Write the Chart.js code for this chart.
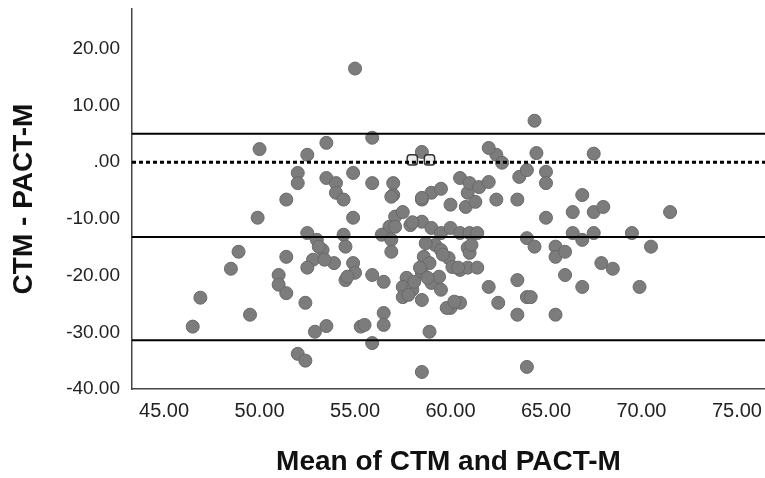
<!DOCTYPE html>
<html>
<head>
<meta charset="utf-8">
<script src="https://cdn.jsdelivr.net/npm/chart.js@4.4.1/dist/chart.umd.min.js"></script>
<style>
  html, body { margin: 0; padding: 0; background: #fff; }
  canvas { display: block; }
</style>
</head>
<body>
<canvas id="ba" width="765" height="478"></canvas>
<script>
// Bland-Altman: mean of the two methods vs their difference
const meanX = [
  46.5, 46.9, 48.5, 48.9, 49.5, 49.9, 50.0, 53.5, 52.5, 52.0,
  52.0, 51.4, 53.5, 54.0, 54.0, 54.4, 54.9, 54.9, 52.5, 53.0,
  53.3, 52.8, 52.5, 53.9, 54.4, 54.5, 54.9, 54.5, 55.0, 51.4,
  51.0, 51.0, 51.4, 52.4, 52.9, 53.5, 52.0, 52.4, 55.3, 55.0,
  55.9, 64.4, 58.5, 55.9, 57.0, 57.0, 58.5, 59.0, 59.5, 60.0,
  60.5, 60.9, 61.0, 61.5, 62.0, 62.4, 62.4, 62.7, 63.5, 63.6,
  64.0, 57.1, 57.5, 56.8, 56.4, 56.9, 56.9, 57.9, 58.5, 59.0,
  59.5, 60.0, 60.5, 61.0, 61.4, 60.9, 61.0, 59.2, 58.6, 58.9,
  59.5, 59.9, 60.1, 60.5, 60.9, 61.4, 58.5, 57.7, 57.5, 58.0,
  57.5, 58.5, 59.0, 59.5, 59.4, 55.9, 56.5, 62.0, 63.5, 64.0,
  62.5, 63.5, 60.0, 60.5, 56.5, 56.5, 55.5, 58.9, 55.9, 58.5,
  64.0, 64.0, 64.5, 67.5, 65.0, 65.0, 66.9, 66.4, 67.5, 68.0,
  71.5, 65.0, 66.4, 67.5, 66.9, 69.5, 70.5, 64.4, 65.5, 65.5,
  66.0, 67.9, 68.5, 66.0, 66.9, 69.9, 64.2, 65.5, 62.0, 58.0,
  57.1, 58.7, 59.6, 58.4, 60.4, 58.8, 58.1, 57.8, 61.1, 60.8,
  61.3, 56.9, 58.5, 59.8, 60.2, 53.1, 53.4, 54.6
];
const diffY = [
  -29.0, -23.9, -18.8, -15.8, -26.9, -9.8, 2.3, 3.4, 1.3, -1.9,
  -3.7, -6.6, -2.8, -3.7, -5.4, -6.6, -1.9, -9.8, -12.5, -13.7,
  -15.5, -17.2, -18.6, -17.8, -12.8, -14.9, -17.8, -20.8, -19.5, -16.7,
  -19.9, -21.6, -23.1, -24.8, -29.9, -28.9, -33.8, -35.0, -29.0, 16.5,
  4.3, 7.3, 1.8, -3.7, -3.7, -5.8, -6.6, -5.4, -4.7, -7.5,
  -2.8, -5.4, -3.7, -4.4, -3.5, -6.6, 1.3, -0.1, -6.6, -2.6,
  -1.4, -9.6, -8.8, -11.4, -12.8, -13.7, -15.8, -11.1, -10.5, -11.6,
  -12.5, -11.6, -12.5, -12.5, -12.5, -15.1, -16.0, -14.6, -16.7, -17.8,
  -15.5, -16.9, -18.5, -19.0, -18.6, -18.6, -19.5, -20.4, -22.0, -22.5,
  -23.8, -24.3, -21.3, -22.5, -20.2, -19.9, -21.1, -22.0, -20.8, -23.8,
  -24.8, -26.9, -25.7, -24.8, -26.6, -28.7, -28.7, -29.9, -31.9, -37.0,
  -36.1, -13.4, 1.6, 1.5, -1.7, -3.7, -5.8, -8.8, -8.8, -7.9,
  -8.8, -9.8, -12.5, -12.5, -13.7, -12.5, -14.9, -14.9, -14.9, -16.7,
  -15.8, -17.8, -18.8, -19.9, -22.0, -22.0, -23.8, -26.9, 2.5, -10.6,
  -11.4, -14.3, -16.3, -18.6, -18.6, -20.4, -21.1, -23.4, -14.6, -7.9,
  -7.0, -6.1, -6.3, -25.7, -24.6, -14.9, -17.2, -20.2
];
// overlapping cases SPSS shows with an outlined marker
const hollowX = [58.0, 58.9];
const hollowY = [0.4, 0.4];

const meanDiff = -13.2;
const upperLoA = 5.0;
const lowerLoA = -31.4;
const zeroLine = 0;

const xMin = 43.32, xMax = 76.47;
const yMin = -40, yMax = 27.0;
const xTicks = [45, 50, 55, 60, 65, 70, 75];
const yTicks = [-40, -30, -20, -10, 0, 10, 20];

const pts = meanX.map((x, i) => ({ x: x, y: diffY[i] }));
const hollow = hollowX.map((x, i) => ({ x: x, y: hollowY[i] }));
const hline = v => [{ x: xMin, y: v }, { x: xMax, y: v }];

const fmt = v => (v === 0 ? '.00' : v.toFixed(2));
const FONT = '"Liberation Sans", Arial, sans-serif';

// keep the plot area where it is in the original: no label overhang padding
const noPad = s => {
  s.paddingTop = 0; s.paddingBottom = 0;
  s.paddingLeft = 0; s.paddingRight = 0;
};

const lineDs = (v, dash, w) => ({
  type: 'line',
  data: hline(v),
  borderColor: '#000',
  borderWidth: w,
  borderDash: dash,
  pointRadius: 0,
  fill: false,
  order: 0
});

new Chart(document.getElementById('ba'), {
  type: 'scatter',
  data: {
    datasets: [
      lineDs(upperLoA, [], 2),
      lineDs(meanDiff, [], 2),
      lineDs(lowerLoA, [], 2),
      lineDs(zeroLine, [4, 3], 3),
      {
        data: pts,
        backgroundColor: '#7c7c7c',
        borderColor: '#696969',
        borderWidth: 1,
        pointRadius: 6.5,
        order: 2
      },
      {
        data: hollow,
        pointStyle: 'rectRounded',
        backgroundColor: '#ececec',
        borderColor: '#333',
        borderWidth: 1.5,
        pointRadius: 6,
        order: 1
      }
    ]
  },
  options: {
    responsive: false,
    animation: false,
    layout: { autoPadding: false, padding: { top: 9, right: 0, left: 0, bottom: 0 } },
    plugins: { legend: { display: false }, tooltip: { enabled: false } },
    scales: {
      x: {
        type: 'linear',
        min: xMin,
        max: xMax,
        afterFit: s => { s.height = 89; noPad(s); },
        afterBuildTicks: s => { s.ticks = xTicks.map(v => ({ value: v })); },
        grid: { display: false, drawTicks: false },
        border: { display: true, color: '#444', width: 1.5 },
        ticks: {
          padding: 10,
          color: '#222',
          font: { family: FONT, size: 20 },
          maxRotation: 0,
          callback: v => fmt(v)
        },
        title: {
          display: true,
          text: 'Mean of CTM and PACT-M',
          color: '#111',
          font: { family: FONT, size: 28, weight: 'bold', lineHeight: 1.1 },
          padding: { top: 0, bottom: 0 }
        }
      },
      y: {
        type: 'linear',
        min: yMin,
        max: yMax,
        afterFit: s => { s.width = 132; noPad(s); },
        afterBuildTicks: s => { s.ticks = yTicks.map(v => ({ value: v })); },
        grid: { display: false, drawTicks: false },
        border: { display: true, color: '#444', width: 1.5 },
        ticks: {
          padding: 12,
          color: '#222',
          font: { family: FONT, size: 19 },
          callback: v => fmt(v)
        },
        title: {
          display: true,
          text: 'CTM - PACT-M',
          color: '#111',
          font: { family: FONT, size: 28, weight: 'bold', lineHeight: 1.1 },
          padding: { top: 9, bottom: 0 }
        }
      }
    }
  }
});
</script>
</body>
</html>
